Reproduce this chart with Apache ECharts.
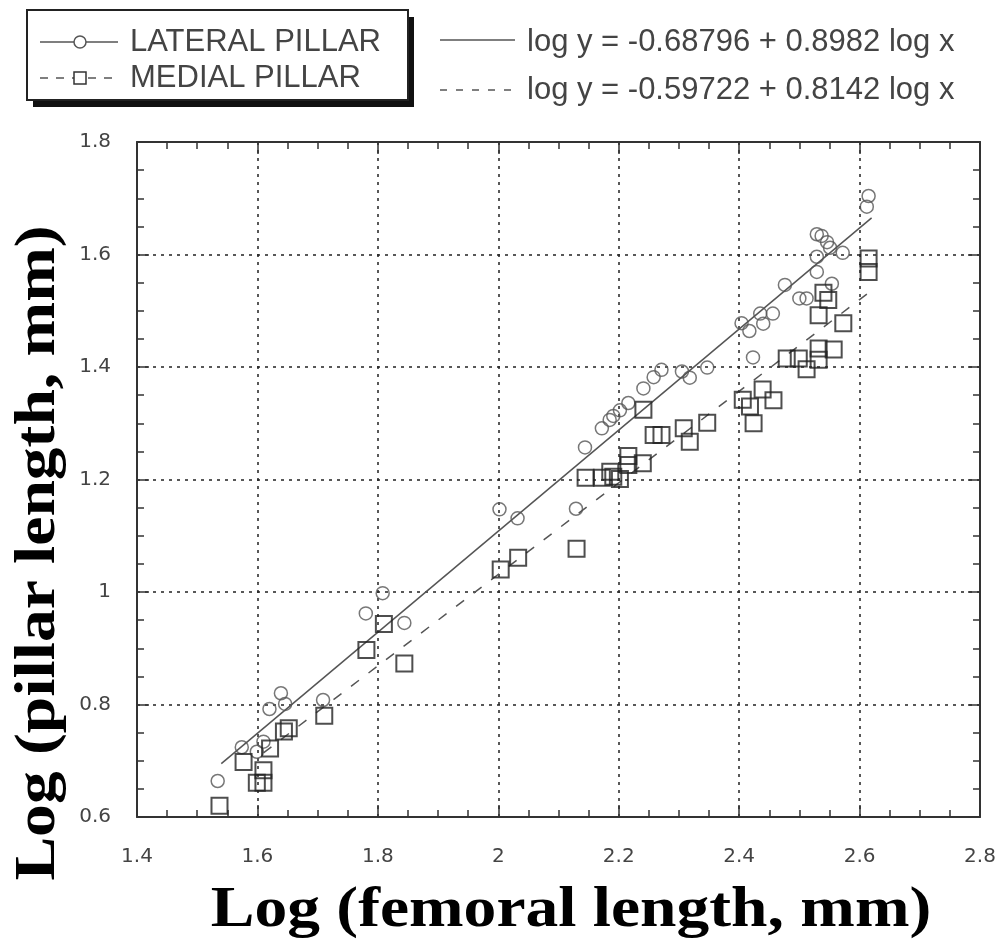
<!DOCTYPE html>
<html>
<head>
<meta charset="utf-8">
<script src="https://cdn.jsdelivr.net/npm/echarts@6/dist/echarts.min.js"></script>
<style>html,body{margin:0;padding:0;background:#fff}#c{width:1000px;height:947px}</style>
</head>
<body>
<div id="c"></div>
<script>
// ---- data ----
const xTicks = [1.4, 1.6, 1.8, 2, 2.2, 2.4, 2.6, 2.8];
const yTicks = [0.6, 0.8, 1, 1.2, 1.4, 1.6, 1.8];
const lateralPillar = [
  [1.534,0.664],[1.574,0.724],[1.599,0.716],[1.610,0.734],[1.620,0.792],[1.639,0.820],
  [1.646,0.801],[1.709,0.808],[1.780,0.962],[1.808,0.998],[1.844,0.945],[2.002,1.147],
  [2.032,1.131],[2.129,1.148],[2.144,1.257],[2.172,1.291],[2.185,1.306],[2.191,1.313],
  [2.202,1.323],[2.216,1.336],[2.241,1.362],[2.258,1.382],[2.271,1.395],[2.305,1.392],
  [2.318,1.381],[2.347,1.399],[2.404,1.478],[2.417,1.464],[2.423,1.417],[2.435,1.495],
  [2.440,1.477],[2.456,1.495],[2.476,1.546],[2.500,1.522],[2.512,1.522],[2.529,1.569],
  [2.529,1.596],[2.529,1.636],[2.537,1.633],[2.546,1.622],[2.551,1.612],[2.554,1.548],
  [2.572,1.603],[2.612,1.685],[2.615,1.704]
];
const medialPillar = [
  [1.537,0.620],[1.577,0.698],[1.599,0.661],[1.610,0.661],[1.610,0.683],[1.621,0.722],
  [1.644,0.752],[1.652,0.758],[1.711,0.780],[1.781,0.897],[1.810,0.943],[1.844,0.873],
  [2.004,1.040],[2.033,1.061],[2.130,1.077],[2.145,1.203],[2.172,1.203],[2.186,1.214],
  [2.191,1.205],[2.202,1.201],[2.216,1.242],[2.216,1.226],[2.240,1.229],[2.241,1.324],
  [2.258,1.279],[2.271,1.279],[2.308,1.291],[2.318,1.267],[2.347,1.301],[2.406,1.342],
  [2.418,1.330],[2.424,1.300],[2.439,1.360],[2.457,1.341],[2.479,1.415],[2.499,1.415],
  [2.512,1.396],[2.532,1.433],[2.532,1.413],[2.557,1.431],[2.532,1.492],[2.540,1.532],
  [2.548,1.519],[2.573,1.478],[2.615,1.593],[2.615,1.569]
];
const lateralFit = [[1.54,0.695],[2.62,1.665]];
const medialFit = [[1.61,0.714],[2.62,1.536]];
const seriesNames = ['LATERAL PILLAR', 'MEDIAL PILLAR'];
const equations = ['log y = -0.68796 + 0.8982 log x', 'log y = -0.59722 + 0.8142 log x'];
const xTitle = 'Log (femoral length, mm)';
const yTitle = 'Log (pillar length, mm)';

// ---- chart ----
const chart = echarts.init(document.getElementById('c'), null, {renderer: 'canvas'});
const axisCol = '#333';
const sans = '"Liberation Sans", Arial, sans-serif';
const tickFont = '"DejaVu Sans", sans-serif';
const serif = '"Liberation Serif", "Times New Roman", serif';

function mkAxis(type, pos, showLabel, ticks) {
  return {
    type: 'value', position: pos,
    min: ticks[0], max: ticks[ticks.length - 1], interval: 0.2,
    axisLine: {show: true, onZero: false, lineStyle: {color: axisCol, width: 2}},
    axisTick: {show: true, inside: true, length: 12, lineStyle: {color: axisCol, width: 1.5}},
    minorTick: {show: true, splitNumber: 4, length: 7, lineStyle: {color: axisCol, width: 1.5}},
    axisLabel: {show: showLabel, color: '#444', fontFamily: tickFont, fontSize: 20,
      margin: type === 'x' ? 30 : 26,
      formatter: v => String(Math.round(v * 10) / 10)},
    splitLine: {show: showLabel, lineStyle: {color: '#222', width: 1.5, type: [3, 5]}}
  };
}

const option = {
  animation: false,
  backgroundColor: '#fff',
  grid: {left: 137, right: 20, top: 142, bottom: 130, containLabel: false},
  xAxis: [mkAxis('x', 'bottom', true, xTicks), mkAxis('x', 'top', false, xTicks)],
  yAxis: [mkAxis('y', 'left', true, yTicks), mkAxis('y', 'right', false, yTicks)],
  series: [
    {name: 'lateralFit', type: 'line', data: lateralFit, showSymbol: false, symbol: 'none',
     lineStyle: {color: '#555', width: 1.5, type: 'solid'}, z: 2},
    {name: 'medialFit', type: 'line', data: medialFit, showSymbol: false, symbol: 'none',
     lineStyle: {color: '#555', width: 1.5, type: [10, 12]}, z: 2},
    {name: seriesNames[0], type: 'scatter', data: lateralPillar, symbol: 'circle', symbolSize: 13,
     itemStyle: {color: 'rgba(0,0,0,0)', borderColor: '#555', borderWidth: 1.5}, z: 3},
    {name: seriesNames[1], type: 'scatter', data: medialPillar, symbol: 'rect', symbolSize: 16,
     itemStyle: {color: 'rgba(0,0,0,0)', borderColor: '#222', borderWidth: 2}, z: 3}
  ],
  graphic: [
    // legend box shadow + box
    {type: 'rect', shape: {x: 33, y: 17, width: 381, height: 90}, style: {fill: '#111'}, z: 10},
    {type: 'rect', shape: {x: 27, y: 10, width: 381, height: 90}, style: {fill: '#fff', stroke: '#222', lineWidth: 2}, z: 11},
    {type: 'line', shape: {x1: 40, y1: 42, x2: 118, y2: 42}, style: {stroke: '#555', lineWidth: 1.5}, z: 12},
    {type: 'circle', shape: {cx: 80, cy: 42, r: 6}, style: {fill: '#fff', stroke: '#555', lineWidth: 1.5}, z: 13},
    {type: 'line', shape: {x1: 40, y1: 78, x2: 118, y2: 78}, style: {stroke: '#555', lineWidth: 1.5, lineDash: [8, 8]}, z: 12},
    {type: 'rect', shape: {x: 74, y: 72, width: 12, height: 12}, style: {fill: '#fff', stroke: '#333', lineWidth: 1.5}, z: 13},
    {type: 'text', x: 130, y: 42, style: {text: seriesNames[0], fill: '#444', font: '31px ' + sans, textVerticalAlign: 'middle'}, z: 12},
    {type: 'text', x: 130, y: 78, style: {text: seriesNames[1], fill: '#444', font: '31px ' + sans, textVerticalAlign: 'middle'}, z: 12},
    // equations
    {type: 'line', shape: {x1: 440, y1: 40, x2: 515, y2: 40}, style: {stroke: '#555', lineWidth: 1.5}, z: 12},
    {type: 'text', x: 527, y: 42, style: {text: equations[0], fill: '#444', font: '31px ' + sans, textVerticalAlign: 'middle'}, z: 12},
    {type: 'line', shape: {x1: 440, y1: 90, x2: 515, y2: 90}, style: {stroke: '#555', lineWidth: 1.5, lineDash: [7, 9]}, z: 12},
    {type: 'text', x: 527, y: 90, style: {text: equations[1], fill: '#444', font: '31px ' + sans, textVerticalAlign: 'middle'}, z: 12},
    // axis titles
    {type: 'text', x: 571, y: 912, scaleX: 1.17, style: {text: xTitle, fill: '#000', font: 'bold 56px ' + serif, textAlign: 'center', textVerticalAlign: 'middle'}, z: 12},
    {type: 'text', x: 40, y: 553, rotation: Math.PI / 2, scaleX: 1.17, style: {text: yTitle, fill: '#000', font: 'bold 56px ' + serif, textAlign: 'center', textVerticalAlign: 'middle'}, z: 12}
  ]
};
chart.setOption(option);
</script>
</body>
</html>
